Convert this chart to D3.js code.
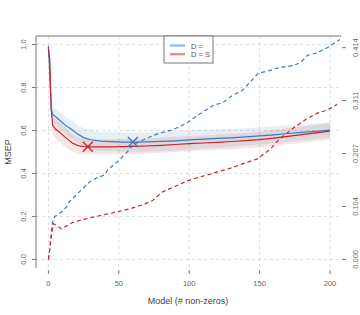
<!DOCTYPE html>
<html>
<head>
<meta charset="utf-8">
<script src="https://cdn.jsdelivr.net/npm/d3@7"></script>
<style>
  body { margin: 0; background: #fff; }
  text { font-family: "Liberation Sans", Arial, sans-serif; }
</style>
</head>
<body>
<div id="chart"></div>
<script>
// model sizes for the MSEP curves
var modelSize = [0,1,2,3,5,8,12,17,21,25,30,37,45,53,60,70,80,90,100,110,120,130,140,150,160,170,180,190,200];

// D = (blue)
var msepD   = [0.995,0.86,0.70,0.675,0.665,0.648,0.625,0.602,0.583,0.567,0.557,0.551,0.548,0.546,0.546,0.547,0.549,0.552,0.556,0.560,0.563,0.566,0.570,0.575,0.580,0.586,0.591,0.596,0.602];
var msepDHi = [1.015,0.89,0.73,0.71,0.705,0.688,0.665,0.642,0.623,0.609,0.602,0.596,0.593,0.591,0.591,0.592,0.594,0.597,0.601,0.604,0.606,0.608,0.611,0.615,0.619,0.624,0.628,0.632,0.637];
var msepDLo = [0.975,0.83,0.67,0.64,0.625,0.608,0.585,0.562,0.543,0.525,0.512,0.506,0.503,0.501,0.501,0.502,0.504,0.507,0.511,0.516,0.520,0.524,0.529,0.535,0.541,0.548,0.554,0.560,0.567];

// D = S (red)
var msepDS   = [0.98,0.93,0.70,0.625,0.607,0.592,0.568,0.542,0.530,0.525,0.524,0.524,0.524,0.525,0.526,0.528,0.531,0.535,0.539,0.542,0.545,0.549,0.553,0.558,0.565,0.573,0.581,0.589,0.597];
var msepDSHi = [1.00,0.96,0.74,0.67,0.652,0.637,0.613,0.582,0.568,0.560,0.559,0.559,0.559,0.560,0.561,0.563,0.566,0.570,0.574,0.577,0.580,0.585,0.589,0.594,0.602,0.610,0.619,0.627,0.636];
var msepDSLo = [0.96,0.90,0.66,0.58,0.562,0.547,0.523,0.502,0.492,0.490,0.489,0.489,0.489,0.490,0.491,0.493,0.496,0.500,0.504,0.507,0.510,0.513,0.517,0.522,0.528,0.536,0.543,0.551,0.558];

// dashed curves, right axis
var dashXD = [0,1,2,3,4.6,9.6,13,15,22,29.5,34,40,42,49,56,60,70,79,88,98,105,117,124,131,138,143,149,157,164,174,179,184,191,198,205,207];
var dashD  = [0,0.02,0.05,0.074,0.084,0.093,0.103,0.113,0.132,0.152,0.159,0.165,0.175,0.191,0.210,0.224,0.237,0.247,0.253,0.266,0.280,0.301,0.307,0.321,0.331,0.346,0.364,0.369,0.375,0.379,0.385,0.399,0.404,0.414,0.426,0.430];
var dashXDS = [0,1,2,3.5,9.4,17,24.5,34,49,58,67,74,81,91,99,110,120,130,140,148,157,164,174,183,191,198,205];
var dashDS  = [0,0.02,0.045,0.07,0.060,0.072,0.078,0.084,0.093,0.099,0.107,0.115,0.132,0.144,0.154,0.163,0.171,0.179,0.189,0.196,0.214,0.235,0.257,0.274,0.286,0.292,0.303];

// minima markers
var minD  = [60, 0.546];
var minDS = [28, 0.524];

var xTicks = [0, 50, 100, 150, 200];
var yTicks = [0, 0.2, 0.4, 0.6, 0.8, 1.0];
var yTickLabels = ['0.0', '0.2', '0.4', '0.6', '0.8', '1.0'];
var rTicks = [0, 0.1035, 0.207, 0.3105, 0.414];
var rTickLabels = ['0.000', '0.104', '0.207', '0.311', '0.414'];
var legendLabels = ['D =', 'D = S'];

var blue = '#3a7abd', red = '#c4262b';

var svg = d3.select('#chart')
  .append('svg')
    .attr('width', 360)
    .attr('height', 315);

var x = d3.scaleLinear().domain([-8.8, 207.8]).range([36, 341]);
var y = d3.scaleLinear().domain([-0.04, 1.04]).range([268, 36]);
var yR = d3.scaleLinear().domain([-0.04 * 0.42, 1.04 * 0.42]).range([268, 36]);

// grid
svg.append('g').selectAll('line')
  .data(yTicks)
  .enter().append('line')
    .attr('x1', 36).attr('x2', 341)
    .attr('y1', function(d) { return y(d); })
    .attr('y2', function(d) { return y(d); })
    .attr('stroke', '#dcdcdc').attr('stroke-dasharray', '3,3');
svg.append('g').selectAll('line')
  .data(xTicks)
  .enter().append('line')
    .attr('y1', 36).attr('y2', 268)
    .attr('x1', function(d) { return x(d); })
    .attr('x2', function(d) { return x(d); })
    .attr('stroke', '#dcdcdc').attr('stroke-dasharray', '3,3');

// confidence bands
var area = function(lo, hi) {
  return d3.area()
    .x(function(d, i) { return x(modelSize[i]); })
    .y0(function(d, i) { return y(lo[i]); })
    .y1(function(d, i) { return y(hi[i]); })(modelSize);
};
svg.append('path').attr('d', area(msepDLo, msepDHi))
  .attr('fill', blue).attr('fill-opacity', 0.13);
svg.append('path').attr('d', area(msepDSLo, msepDSHi))
  .attr('fill', red).attr('fill-opacity', 0.12);

// dashed lines on the right scale
var dashLine = function(xs, vs) {
  return d3.line()
    .x(function(d, i) { return x(xs[i]); })
    .y(function(d, i) { return yR(vs[i]); })(xs);
};
svg.append('path').attr('d', dashLine(dashXD, dashD))
  .attr('fill', 'none').attr('stroke', blue).attr('stroke-width', 1.2)
  .attr('stroke-dasharray', '4,3');
svg.append('path').attr('d', dashLine(dashXDS, dashDS))
  .attr('fill', 'none').attr('stroke', red).attr('stroke-width', 1.2)
  .attr('stroke-dasharray', '4,3');

// solid MSEP curves
var solid = function(vs) {
  return d3.line()
    .x(function(d, i) { return x(modelSize[i]); })
    .y(function(d, i) { return y(vs[i]); })(modelSize);
};
svg.append('path').attr('d', solid(msepD))
  .attr('fill', 'none').attr('stroke', blue).attr('stroke-width', 1.2);
svg.append('path').attr('d', solid(msepDS))
  .attr('fill', 'none').attr('stroke', red).attr('stroke-width', 1.2);

// x markers at the minima
[[minD, blue], [minDS, red]].forEach(function(m) {
  var cx = x(m[0][0]), cy = y(m[0][1]);
  svg.append('path')
    .attr('d', 'M' + (cx - 5) + ',' + (cy - 5) + 'L' + (cx + 5) + ',' + (cy + 5) +
               'M' + (cx - 5) + ',' + (cy + 5) + 'L' + (cx + 5) + ',' + (cy - 5))
    .attr('stroke', m[1]).attr('stroke-width', 1.4);
});

// frame: top line and left axis line
svg.append('line').attr('x1', 36).attr('x2', 341).attr('y1', 36).attr('y2', 36)
  .attr('stroke', '#777');
svg.append('line').attr('x1', 36).attr('x2', 36).attr('y1', 36).attr('y2', 268)
  .attr('stroke', '#777');

// left axis
var left = svg.append('g');
left.selectAll('line').data(yTicks).enter().append('line')
  .attr('x1', 32).attr('x2', 36)
  .attr('y1', function(d) { return y(d); })
  .attr('y2', function(d) { return y(d); })
  .attr('stroke', '#777');
left.selectAll('text').data(yTicks).enter().append('text')
  .attr('transform', function(d) { return 'translate(26,' + y(d) + ') rotate(-90)'; })
  .attr('text-anchor', 'middle')
  .attr('font-size', 7.5).attr('fill', '#666')
  .text(function(d, i) { return yTickLabels[i]; });

// right axis
var right = svg.append('g');
right.selectAll('line').data(rTicks).enter().append('line')
  .attr('x1', 342).attr('x2', 346)
  .attr('y1', function(d) { return yR(d); })
  .attr('y2', function(d) { return yR(d); })
  .attr('stroke', '#777');
right.selectAll('text').data(rTicks).enter().append('text')
  .attr('transform', function(d) { return 'translate(358,' + yR(d) + ') rotate(-90)'; })
  .attr('text-anchor', 'middle')
  .attr('font-size', 7.5).attr('fill', '#666')
  .text(function(d, i) { return rTickLabels[i]; });

// bottom axis (ticks only)
var bottom = svg.append('g');
bottom.selectAll('line').data(xTicks).enter().append('line')
  .attr('y1', 270).attr('y2', 274)
  .attr('x1', function(d) { return x(d); })
  .attr('x2', function(d) { return x(d); })
  .attr('stroke', '#777');
bottom.selectAll('text').data(xTicks).enter().append('text')
  .attr('x', function(d) { return x(d); })
  .attr('y', 286)
  .attr('text-anchor', 'middle')
  .attr('font-size', 7.5).attr('fill', '#666')
  .text(function(d) { return d; });

// axis titles
svg.append('text')
  .attr('x', 188).attr('y', 304)
  .attr('text-anchor', 'middle')
  .attr('font-size', 9).attr('fill', '#444')
  .text('Model (# non-zeros)');
svg.append('text')
  .attr('transform', 'translate(11,152) rotate(-90)')
  .attr('text-anchor', 'middle')
  .attr('font-size', 9).attr('fill', '#444')
  .text('MSEP');

// legend
var legend = svg.append('g').attr('class', 'legend');
legend.append('rect')
  .attr('x', 164).attr('y', 36).attr('width', 49).attr('height', 27)
  .attr('fill', '#fff').attr('stroke', '#777');
legend.selectAll('line').data(legendLabels).enter().append('line')
  .attr('x1', 170).attr('x2', 185)
  .attr('y1', function(d, i) { return 45.5 + i * 8.7; })
  .attr('y2', function(d, i) { return 45.5 + i * 8.7; })
  .attr('stroke', function(d, i) { return i ? '#e09595' : '#9dbfe0'; })
  .attr('stroke-width', 2.5);
legend.selectAll('text').data(legendLabels).enter().append('text')
  .attr('x', 191)
  .attr('y', function(d, i) { return 48.5 + i * 8.7; })
  .attr('font-size', 7.5).attr('fill', '#555')
  .text(function(d) { return d; });
</script>
</body>
</html>
